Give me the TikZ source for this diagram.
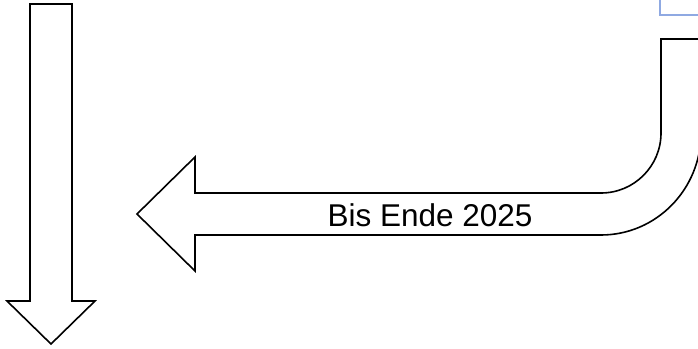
\documentclass[tikz,border=0pt]{standalone}
\usepackage{fontspec}
\setmainfont{Liberation Sans}
\definecolor{boxblue}{HTML}{8FA9E2}
\tikzset{
  arrowshape/.style={draw=black, line width=1.6pt, line join=miter, fill=white},
  label/.style={font=\fontsize{31.5}{36}\selectfont, inner sep=0pt}
}
\begin{document}
\begin{tikzpicture}[x=1pt, y=-1pt]
  \useasboundingbox (0,0) rectangle (698,348);
  \clip (0,0) rectangle (698,348);
  % box running off the top right corner
  \draw[boxblue, line width=1.6pt] (660,-20) rectangle (740,15);
  % downward block arrow
  \draw[arrowshape] (30,4) -- (72,4) -- (72,301) -- (95,301) -- (51,344)
        -- (7,301) -- (30,301) -- cycle;
  % bent block arrow turning from down to left
  \draw[arrowshape] (661,39) -- (701,39) -- (701,133)
        arc[start angle=0, end angle=90, x radius=100, y radius=102]
        -- (195,235) -- (195,271) -- (137,214) -- (195,157) -- (195,193)
        -- (601,193)
        arc[start angle=90, end angle=0, radius=60]
        -- cycle;
  \node[label] (t) at (430,215) {Bis Ende 2025};
\end{tikzpicture}
\end{document}
